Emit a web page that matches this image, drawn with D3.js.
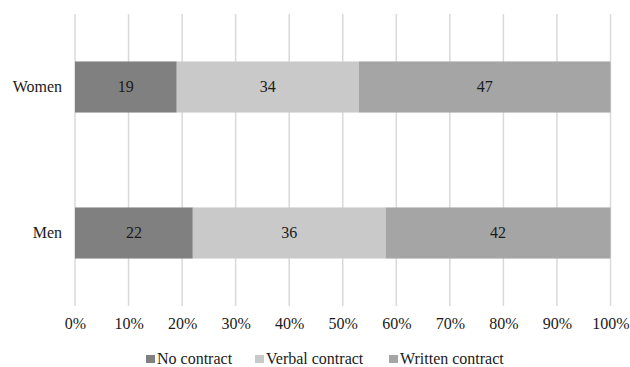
<!DOCTYPE html>
<html>
<head>
<meta charset="utf-8">
<script src="https://cdn.jsdelivr.net/npm/d3@7"></script>
<style>
  body { margin: 0; background: #fff; }
</style>
</head>
<body>
<div id="chart"></div>
<script>
/* chart data */
var groups = ["Women", "Men"]
var seriesNames = ["No contract", "Verbal contract", "Written contract"]
var noContract = [19, 22]
var verbalContract = [34, 36]
var writtenContract = [47, 42]
var tickValues = [0, 10, 20, 30, 40, 50, 60, 70, 80, 90, 100]

var seriesColors = ["#808080", "#c9c9c9", "#a5a5a5"]
var fontFam = "'Liberation Serif'"
var textColor = "#1a1a1a"

var width = 630
var height = 367
var margin = {top: 14, right: 20, bottom: 61, left: 75}

var rows = groups.map(function(g, i) {
  return {group: g, values: [noContract[i], verbalContract[i], writtenContract[i]]}
})

var x = d3.scaleLinear()
    .domain([0, 100])
    .range([margin.left, 610.5])

var y = d3.scaleBand()
    .domain(groups)
    .range([margin.top, height - margin.bottom])
    .paddingInner(0.65)
    .paddingOuter(0.325)

var svg = d3.select("#chart")
  .append("svg")
  .attr("width", width)
  .attr("height", height)

function styleText(sel) {
  sel.style("font-family", fontFam)
     .style("font-size", "16px")
     .style("fill", textColor)
}

/* vertical grid lines */
svg.append("g")
    .selectAll("line")
    .data(tickValues)
    .enter()
    .append("line")
    .attr("x1", function(d) { return x(d) })
    .attr("x2", function(d) { return x(d) })
    .attr("y1", margin.top)
    .attr("y2", height - margin.bottom)
    .style("stroke", "#d9d9d9")
    .style("stroke-width", 1.5)

/* stacked bars */
var stack = d3.stack()
    .keys([0, 1, 2])
    .value(function(d, k) { return d.values[k] })

var layers = stack(rows)

var layer = svg.append("g")
    .selectAll("g")
    .data(layers)
    .enter()
    .append("g")
    .attr("fill", function(d, i) { return seriesColors[i] })

layer.selectAll("rect")
    .data(function(d) { return d })
    .enter()
    .append("rect")
    .attr("x", function(d) { return x(d[0]) })
    .attr("y", function(d) { return y(d.data.group) })
    .attr("width", function(d) { return x(d[1]) - x(d[0]) })
    .attr("height", y.bandwidth())

layer.selectAll("text")
    .data(function(d) { return d })
    .enter()
    .append("text")
    .attr("x", function(d) { return (x(d[0]) + x(d[1])) / 2 })
    .attr("y", function(d) { return y(d.data.group) + y.bandwidth() / 2 })
    .attr("dy", "0.33em")
    .attr("text-anchor", "middle")
    .call(styleText)
    .text(function(d) { return d[1] - d[0] })

/* axes */
var xAxis = d3.axisBottom(x)
    .tickValues(tickValues)
    .tickSize(0)
    .tickPadding(12)
    .tickFormat(function(d) { return d + "%" })

svg.append("g")
    .attr("transform", "translate(0," + (height - margin.bottom) + ")")
    .call(xAxis)
    .call(function(g) { g.select(".domain").remove() })
    .selectAll("text")
    .call(styleText)

var yAxis = d3.axisLeft(y)
    .tickSize(0)
    .tickPadding(13)

svg.append("g")
    .attr("transform", "translate(" + margin.left + ",0)")
    .call(yAxis)
    .call(function(g) { g.select(".domain").remove() })
    .selectAll("text")
    .call(styleText)

/* legend */
var legendX = [146, 255, 389]
var legend = svg.append("g")
    .selectAll("g")
    .data(seriesNames)
    .enter()
    .append("g")
    .attr("transform", function(d, i) { return "translate(" + legendX[i] + ",359)" })

legend.append("rect")
    .attr("x", 0)
    .attr("y", -4)
    .attr("width", 9)
    .attr("height", 8)
    .attr("fill", function(d, i) { return seriesColors[i] })

legend.append("text")
    .attr("x", 11)
    .attr("y", 0)
    .attr("dy", "0.32em")
    .call(styleText)
    .text(function(d) { return d })
</script>
</body>
</html>
